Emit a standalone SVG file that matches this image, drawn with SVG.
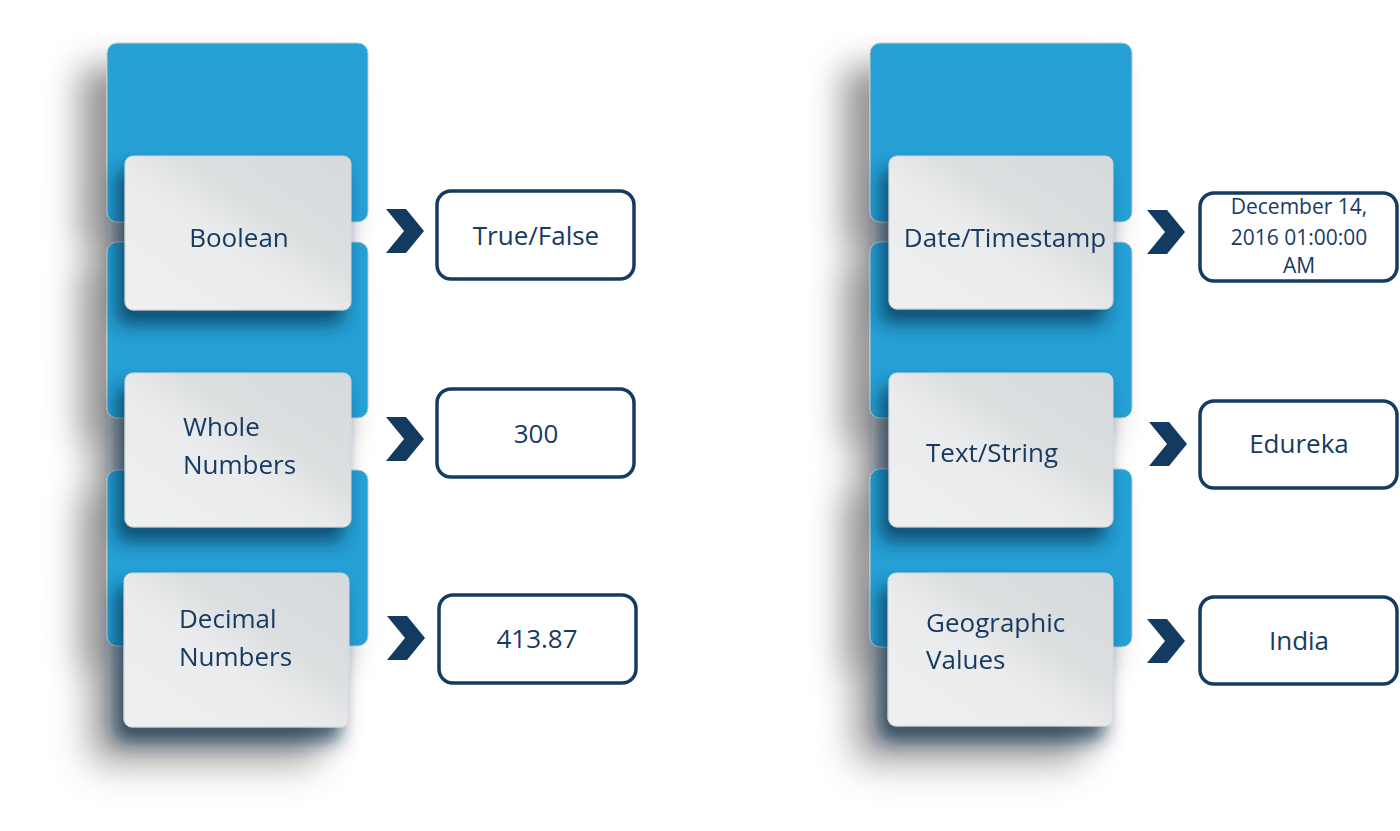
<svg xmlns="http://www.w3.org/2000/svg" xmlns:xlink="http://www.w3.org/1999/xlink" width="1400" height="831" viewBox="0 0 1400 831">
<style>
.tab{fill:#25a0d5;stroke:#c3c9cc;stroke-width:1}
.card{fill:url(#cardGrad);stroke:#cfd2d4;stroke-width:1}
.lbl{font-family:"Open Sans","Noto Sans",sans-serif;font-size:26px;fill:#173b63}
.val{fill:#ffffff;stroke:#143b62;stroke-width:3.5}
.vt{font-family:"Open Sans","Noto Sans",sans-serif;font-size:26px;fill:#173b63;text-anchor:middle}
.vs{font-family:"Open Sans","Noto Sans",sans-serif;font-size:21px;fill:#173b63;text-anchor:middle}
.chev{fill:#133b62}
</style>
<defs>
<linearGradient id="cardGrad" x1="0" y1="1" x2="1" y2="0">
<stop offset="0" stop-color="#eff0f0"/>
<stop offset="0.45" stop-color="#eaebec"/>
<stop offset="0.62" stop-color="#dcdfe0"/>
<stop offset="1" stop-color="#d7dadc"/>
</linearGradient>
<filter id="colSh" x="-45%" y="-20%" width="180%" height="150%">
<feGaussianBlur in="SourceAlpha" stdDeviation="17"/>
<feOffset dx="-26" dy="24" result="b"/>
<feFlood flood-color="#000" flood-opacity="0.42"/>
<feComposite in2="b" operator="in"/>
<feMerge><feMergeNode/><feMergeNode in="SourceGraphic"/></feMerge>
</filter>
<filter id="cardSh" x="-30%" y="-30%" width="160%" height="180%">
<feGaussianBlur in="SourceAlpha" stdDeviation="9"/>
<feOffset dx="-8" dy="14" result="b"/>
<feFlood flood-color="#0b2440" flood-opacity="0.65"/>
<feComposite in2="b" operator="in"/>
<feMerge><feMergeNode/><feMergeNode in="SourceGraphic"/></feMerge>
</filter>
<path id="chevron" d="M0,0 L20,0 L38,22 L20,44 L0,44 L18,22 Z"/>
</defs>
<rect width="1400" height="831" fill="#ffffff"/>

<g id="column-left" filter="url(#colSh)">
<g id="tabs-left">
<rect class="tab" x="107" y="43" width="261" height="179" rx="10"/>
<rect class="tab" x="107" y="242" width="261" height="176" rx="10"/>
<rect class="tab" x="107" y="470" width="261" height="176" rx="10"/>
</g>
<g id="node-boolean" filter="url(#cardSh)">
<rect class="card" x="125" y="156" width="226" height="154" rx="8"/>
<text class="lbl" x="239" y="247" text-anchor="middle">Boolean</text>
</g>
<g id="node-whole-numbers" filter="url(#cardSh)">
<rect class="card" x="125" y="373" width="226" height="154" rx="8"/>
<text class="lbl" x="183" y="436">Whole</text>
<text class="lbl" x="183" y="474">Numbers</text>
</g>
<g id="node-decimal-numbers" filter="url(#cardSh)">
<rect class="card" x="124" y="573" width="225" height="154" rx="8"/>
<text class="lbl" x="179" y="628">Decimal</text>
<text class="lbl" x="179" y="666">Numbers</text>
</g>
</g>

<g id="column-right" filter="url(#colSh)">
<g id="tabs-right">
<rect class="tab" x="870" y="43" width="262" height="179" rx="10"/>
<rect class="tab" x="870" y="242" width="262" height="176" rx="10"/>
<rect class="tab" x="870" y="469" width="262" height="178" rx="10"/>
</g>
<g id="node-date-timestamp" filter="url(#cardSh)">
<rect class="card" x="889" y="156" width="224" height="153" rx="8"/>
<text class="lbl" x="1005" y="247" text-anchor="middle">Date/Timestamp</text>
</g>
<g id="node-text-string" filter="url(#cardSh)">
<rect class="card" x="889" y="373" width="224" height="154" rx="8"/>
<text class="lbl" x="926" y="462">Text/String</text>
</g>
<g id="node-geographic-values" filter="url(#cardSh)">
<rect class="card" x="888" y="573" width="225" height="153" rx="8"/>
<text class="lbl" x="926" y="632">Geographic</text>
<text class="lbl" x="926" y="669">Values</text>
</g>
</g>

<g id="connectors">
<use xlink:href="#chevron" href="#chevron" class="chev" transform="translate(386,209)"/>
<use xlink:href="#chevron" href="#chevron" class="chev" transform="translate(386,417)"/>
<use xlink:href="#chevron" href="#chevron" class="chev" transform="translate(387,616)"/>
<use xlink:href="#chevron" href="#chevron" class="chev" transform="translate(1147,210)"/>
<use xlink:href="#chevron" href="#chevron" class="chev" transform="translate(1149,422)"/>
<use xlink:href="#chevron" href="#chevron" class="chev" transform="translate(1147,619)"/>
</g>

<g id="value-true-false">
<rect class="val" x="437" y="191" width="197" height="88" rx="14"/>
<text class="vt" x="536" y="245">True/False</text>
</g>
<g id="value-300">
<rect class="val" x="437" y="389" width="197" height="88" rx="14"/>
<text class="vt" x="536" y="443">300</text>
</g>
<g id="value-413-87">
<rect class="val" x="439" y="595" width="197" height="88" rx="14"/>
<text class="vt" x="537" y="648">413.87</text>
</g>
<g id="value-date">
<rect class="val" x="1200" y="193" width="197" height="88" rx="14"/>
<text class="vs" x="1299" y="214">December 14,</text>
<text class="vs" x="1299" y="245">2016 01:00:00</text>
<text class="vs" x="1299" y="273">AM</text>
</g>
<g id="value-edureka">
<rect class="val" x="1200" y="401" width="197" height="87" rx="14"/>
<text class="vt" x="1299" y="453">Edureka</text>
</g>
<g id="value-india">
<rect class="val" x="1200" y="597" width="197" height="87" rx="14"/>
<text class="vt" x="1299" y="650">India</text>
</g>
</svg>
